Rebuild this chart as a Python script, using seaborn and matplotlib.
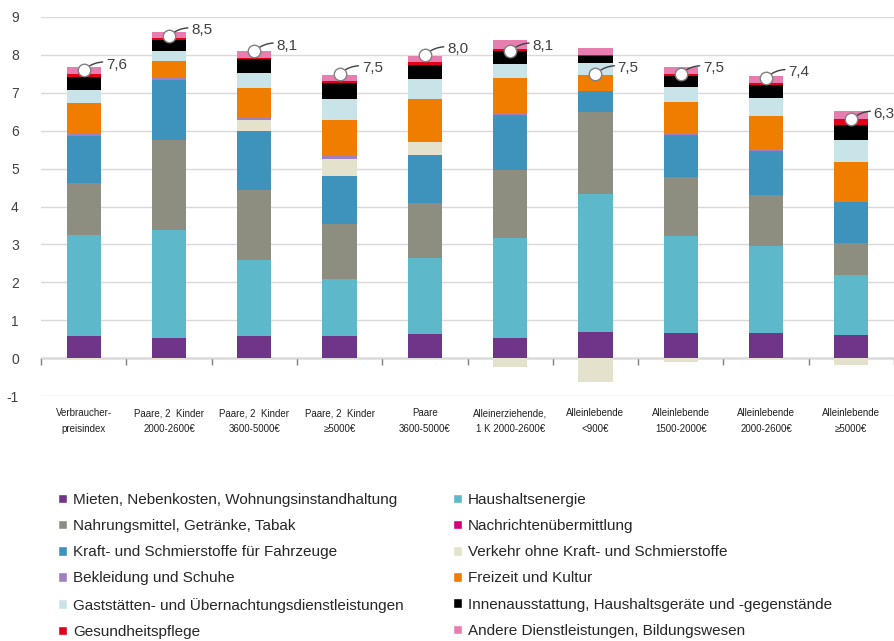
import numpy as np
import pandas as pd
import seaborn as sns
import matplotlib.pyplot as plt
from matplotlib.patches import Patch

categories = [
    'Verbraucher-\npreisindex',
    'Paare, 2  Kinder\n2000-2600€',
    'Paare, 2  Kinder\n3600-5000€',
    'Paare, 2  Kinder\n≥5000€',
    'Paare\n3600-5000€',
    'Alleinerziehende,\n1 K 2000-2600€',
    'Alleinlebende\n<900€',
    'Alleinlebende\n1500-2000€',
    'Alleinlebende\n2000-2600€',
    'Alleinlebende\n≥5000€',
]

# series in stacking order (bottom to top), values in percentage points
mieten = [0.59, 0.53, 0.59, 0.57, 0.63, 0.54, 0.70, 0.65, 0.65, 0.61]
energie = [2.66, 2.86, 2.01, 1.53, 2.02, 2.64, 3.62, 2.57, 2.31, 1.57]
nahrung = [1.38, 2.36, 1.84, 1.44, 1.43, 1.78, 2.17, 1.55, 1.34, 0.86]
nachrichten = [0.0, 0.0, 0.0, 0.0, 0.0, 0.0, 0.0, 0.0, 0.0, 0.0]
kraft = [1.24, 1.59, 1.56, 1.26, 1.29, 1.46, 0.55, 1.12, 1.17, 1.07]
verkehr = [-0.03, -0.03, 0.27, 0.46, 0.32, -0.23, -0.63, -0.11, -0.02, -0.19]
bekleidung = [0.04, 0.04, 0.07, 0.06, 0.04, 0.04, 0.02, 0.03, 0.02, 0.02]
freizeit = [0.81, 0.47, 0.78, 0.97, 1.11, 0.93, 0.41, 0.85, 0.90, 1.05]
gaststaetten = [0.35, 0.26, 0.40, 0.54, 0.52, 0.36, 0.31, 0.37, 0.47, 0.58]
innen = [0.36, 0.28, 0.37, 0.42, 0.38, 0.34, 0.18, 0.31, 0.35, 0.40]
gesundheit = [0.07, 0.05, 0.04, 0.05, 0.06, 0.06, 0.04, 0.05, 0.04, 0.15]
andere = [0.19, 0.16, 0.18, 0.17, 0.17, 0.23, 0.18, 0.19, 0.20, 0.20]

totals = [7.6, 8.5, 8.1, 7.5, 8.0, 8.1, 7.5, 7.5, 7.4, 6.3]

series = [
    ('Mieten, Nebenkosten, Wohnungsinstandhaltung', mieten, '#6E3589'),
    ('Haushaltsenergie', energie, '#5DB9CA'),
    ('Nahrungsmittel, Getränke, Tabak', nahrung, '#8E8E80'),
    ('Nachrichtenübermittlung', nachrichten, '#D4007A'),
    ('Kraft- und Schmierstoffe für Fahrzeuge', kraft, '#3E93BC'),
    ('Verkehr ohne Kraft- und Schmierstoffe', verkehr, '#E4E1CC'),
    ('Bekleidung und Schuhe', bekleidung, '#A080C0'),
    ('Freizeit und Kultur', freizeit, '#EE7D00'),
    ('Gaststätten- und Übernachtungsdienstleistungen', gaststaetten, '#C9E4E8'),
    ('Innenausstattung, Haushaltsgeräte und -gegenstände', innen, '#000000'),
    ('Gesundheitspflege', gesundheit, '#E2001A'),
    ('Andere Dienstleistungen, Bildungswesen', andere, '#E87EB0'),
]

sns.set_theme(style='whitegrid')
plt.rcParams['font.family'] = ['Liberation Sans', 'DejaVu Sans']
plt.rcParams['axes.unicode_minus'] = False

fig = plt.figure(figsize=(8.94, 6.41), dpi=100)
ax = fig.add_axes([41 / 894, 1 - 396 / 641, 853 / 894, 379 / 641])

# cumulative tops (positive) and bottoms (negative), drawn back to front
vals = np.array([s[1] for s in series])
pos = np.cumsum(np.clip(vals, 0, None), axis=0)
neg = np.cumsum(np.clip(vals, None, 0), axis=0)

for i in range(len(series) - 1, -1, -1):
    name, v, color = series[i]
    df = pd.DataFrame({'cat': categories,
                       'pos': np.where(np.array(v) > 0, pos[i], 0.0),
                       'neg': np.where(np.array(v) < 0, neg[i], 0.0)})
    for col in ('pos', 'neg'):
        sns.barplot(data=df, x='cat', y=col, order=categories, color=color,
                    saturation=1, width=0.4, linewidth=0, errorbar=None, ax=ax)

# total markers with leader lines
for i, t in enumerate(totals):
    ax.annotate(f'{t:.1f}'.replace('.', ','), xy=(i, t), xytext=(16, 4),
                textcoords='offset points', ha='left', va='center',
                fontsize=11, color='#404040',
                arrowprops=dict(arrowstyle='-', color='#404040', lw=1,
                                shrinkA=0, shrinkB=2,
                                connectionstyle='arc3,rad=0.3'))
    ax.plot(i, t, 'o', ms=9, mfc='white', mec='#808080', mew=1, zorder=5)

ax.set_xlim(-0.5, 9.5)
ax.set_ylim(-1, 9)
ax.set_yticks(range(-1, 10))
ax.set_xlabel('')
ax.set_ylabel('')
ax.grid(axis='y', color='#D9D9D9', lw=1)
ax.grid(axis='x', visible=False)
for s in ax.spines.values():
    s.set_visible(False)
ax.tick_params(axis='y', length=0, pad=16, labelsize=10, labelcolor='#404040')
ax.tick_params(axis='x', length=0, pad=9, labelsize=7, labelcolor='#202020')
for lab in ax.get_xticklabels():
    lab.set_linespacing(1.65)

# category axis at y = 0
zero = ax.secondary_xaxis(0.1)
zero.set_xticks(np.arange(-0.5, 10, 1), labels=[''] * 11)
zero.tick_params(axis='x', direction='out', length=5, width=1, color='#808080')
zero.spines['bottom'].set_color('#808080')
zero.spines['bottom'].set_linewidth(1)

order = [0, 2, 4, 6, 8, 10, 1, 3, 5, 7, 9, 11]
handles = [Patch(facecolor=series[k][2], label=series[k][0]) for k in order]
fig.legend(handles=handles, loc='upper left', bbox_to_anchor=(44 / 894, 1 - 479 / 641),
           ncol=2, frameon=False, fontsize=11, handlelength=0.6, handleheight=0.6,
           handletextpad=0.4, columnspacing=3.2, labelspacing=0.8)

fig.savefig('out.png', dpi=100)
